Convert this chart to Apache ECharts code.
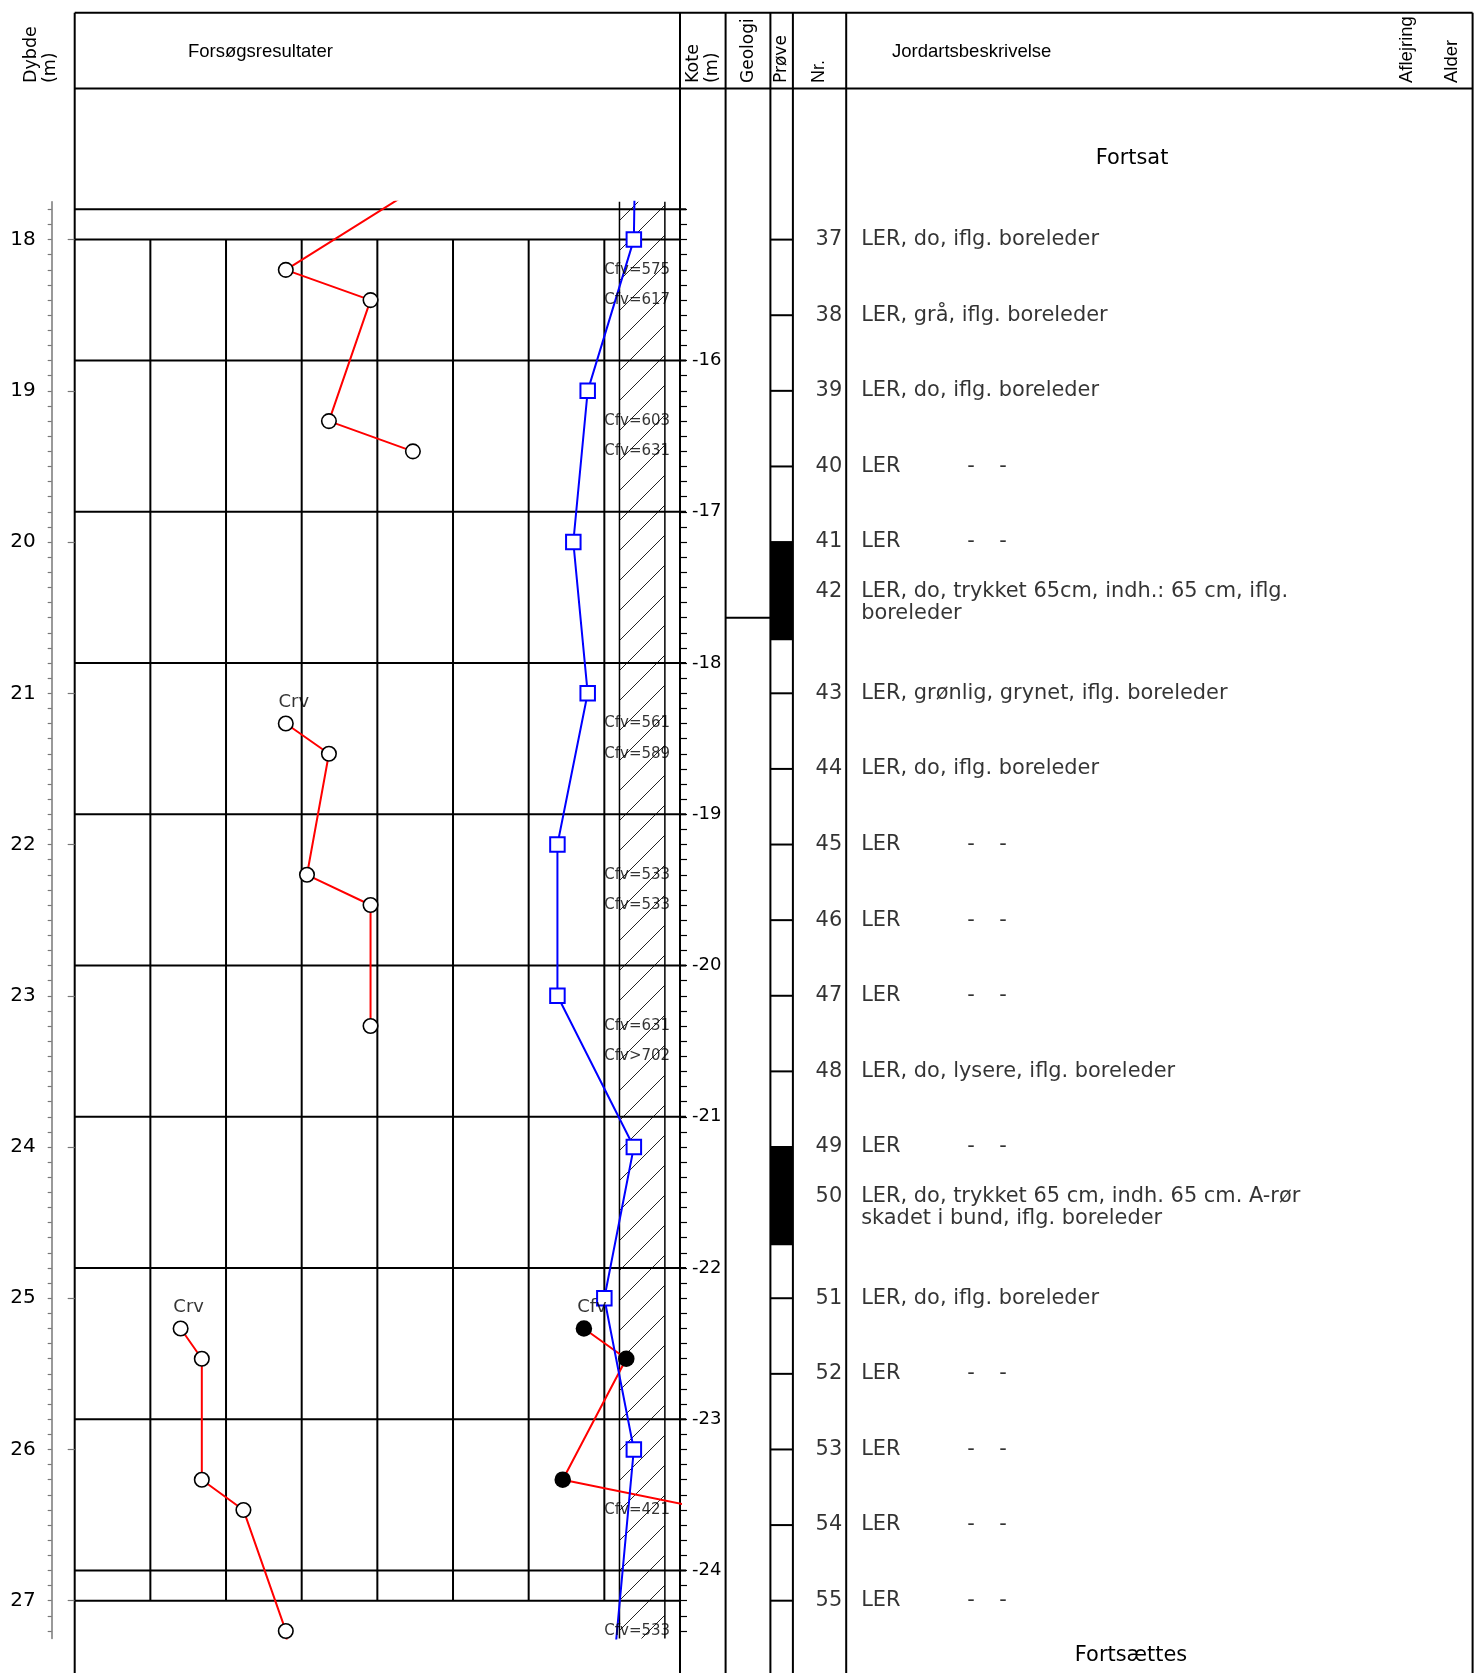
<!DOCTYPE html>
<html>
<head>
<meta charset="utf-8">
<title>Boreprofil</title>
<script src="https://cdn.jsdelivr.net/npm/echarts@6/dist/echarts.min.js"></script>
<style>
  html, body { margin: 0; padding: 0; background: #fff; }
  #chart { width: 1479px; height: 1673px; }
</style>
</head>
<body>
<div id="chart"></div>
<script>
// depth window shown on this sheet (m) and ground level (kote)
const depthMin = 17.75
const depthMax = 27.25
const groundKote = 2.8

// axis ticks / labels
const depthLabels = [18, 19, 20, 21, 22, 23, 24, 25, 26, 27]
const koteLines = [-15, -16, -17, -18, -19, -20, -21, -22, -23, -24]
const koteLabels = [-16, -17, -18, -19, -20, -21, -22, -23, -24]
const gridDepths = [18, 27]
const gridColumns = [1, 2, 3, 4, 5, 6, 7]

// Crv (vingeforsøg, intakt) - three runs
const crvTop = [[5.34, 17.4], [2.79, 18.2], [3.91, 18.4], [3.36, 19.2], [4.47, 19.4]]
const crvMid = [[2.79, 21.2], [3.36, 21.4], [3.07, 22.2], [3.91, 22.4], [3.91, 23.2]]
const crvLow = [[1.40, 25.2], [1.68, 25.4], [1.68, 26.2], [2.23, 26.4], [2.79, 27.2], [2.83, 27.4]]
// Cfv points (filled)
const cfvPoints = [[6.73, 25.2], [7.29, 25.4], [6.45, 26.2], [8.42, 26.4]]
// blue squares
const waterContent = [[7.42, 17.0], [7.39, 18.0], [6.78, 19.0], [6.59, 20.0], [6.78, 21.0],
  [6.38, 22.0], [6.38, 23.0], [7.39, 24.0], [7.0, 25.0], [7.39, 26.0], [7.02, 28.0]]

// Cfv text column
const cfvDepth = [18.2, 18.4, 19.2, 19.4, 21.2, 21.4, 22.2, 22.4, 23.2, 23.4, 26.4, 27.2]
const cfvText = ['Cfv=575', 'Cfv=617', 'Cfv=603', 'Cfv=631', 'Cfv=561', 'Cfv=589',
  'Cfv=533', 'Cfv=533', 'Cfv=631', 'Cfv>702', 'Cfv=421', 'Cfv=533']
const runLabels = [[2.79, 21.2, 'Crv'], [1.40, 25.2, 'Crv'], [6.73, 25.2, 'Cfv']]

// geologi / prøver
const geoBoundaries = [20.5]
const sampleTicks = [18, 18.5, 19, 19.5, 20, 21, 21.5, 22, 22.5, 23, 23.5, 24, 25, 25.5, 26, 26.5, 27]
const pressedSamples = [[20.0, 20.65], [24.0, 24.65]]

const sampleNr = [37, 38, 39, 40, 41, 42, 43, 44, 45, 46, 47, 48, 49, 50, 51, 52, 53, 54, 55]
const sampleDepth = [18, 18.5, 19, 19.5, 20, 20.33, 21, 21.5, 22, 22.5, 23, 23.5, 24, 24.33, 25, 25.5, 26, 26.5, 27]
const sampleText = [
  'LER, do, iflg. boreleder',
  'LER, grå, iflg. boreleder',
  'LER, do, iflg. boreleder',
  'LER\t-\t-',
  'LER\t-\t-',
  'LER, do, trykket 65cm, indh.: 65 cm, iflg.\nboreleder',
  'LER, grønlig, grynet, iflg. boreleder',
  'LER, do, iflg. boreleder',
  'LER\t-\t-',
  'LER\t-\t-',
  'LER\t-\t-',
  'LER, do, lysere, iflg. boreleder',
  'LER\t-\t-',
  'LER, do, trykket 65 cm, indh. 65 cm. A-rør\nskadet i bund, iflg. boreleder',
  'LER, do, iflg. boreleder',
  'LER\t-\t-',
  'LER\t-\t-',
  'LER\t-\t-',
  'LER\t-\t-'
]

const FONT_V = 'DejaVu Sans'
const FONT_A = 'Liberation Sans'
const TXT = 20.9

const depthMinorTicks = []
for (let i = 178; i <= 272; i++) depthMinorTicks.push(i / 10)

// hatch pattern for the vane column
const hatch = document.createElement('canvas')
hatch.width = 30
hatch.height = 30
const hc = hatch.getContext('2d')
hc.strokeStyle = '#222'
hc.lineWidth = 1
hc.beginPath()
hc.moveTo(0, 30); hc.lineTo(30, 0)
hc.moveTo(-15, 15); hc.lineTo(15, -15)
hc.moveTo(15, 45); hc.lineTo(45, 15)
hc.stroke()

const chart = echarts.init(document.getElementById('chart'))

const plotTop = 201.8
const plotH = 1436.7
function grid(left, width) {
  return { left: left, top: plotTop, width: width, height: plotH }
}
function hiddenDepthAxis(g) {
  return { gridIndex: g, type: 'value', inverse: true, min: depthMin, max: depthMax, show: false }
}
function hiddenX(g, max) {
  return { gridIndex: g, type: 'value', min: 0, max: max, show: false }
}
function seg(a, b, w, color) {
  return { type: 'line', shape: { x1: a[0], y1: a[1], x2: b[0], y2: b[1] },
    style: { stroke: color || '#000', lineWidth: w } }
}

// frame + header
const g = []
function vline(x, w) { g.push({ type: 'line', shape: { x1: x, y1: 12.8, x2: x, y2: 1673 }, style: { stroke: '#000', lineWidth: w } }) }
g.push({ type: 'line', shape: { x1: 74.7, y1: 12.8, x2: 1472.6, y2: 12.8 }, style: { stroke: '#000', lineWidth: 2 } })
g.push({ type: 'line', shape: { x1: 74.7, y1: 88.5, x2: 1472.6, y2: 88.5 }, style: { stroke: '#000', lineWidth: 2 } })
;[74.7, 680, 725.6, 770.4, 792.9, 846.2, 1472.6].forEach(x => vline(x, 2))
function vtext(text, x, font, size) {
  g.push({ type: 'text', x: x, y: 83, rotation: Math.PI / 2,
    style: { text: text, fontFamily: font, fontSize: size, fill: '#000', align: 'left', verticalAlign: 'middle' } })
}
function htext(text, x, y, font, size, align) {
  g.push({ type: 'text', x: x, y: y,
    style: { text: text, fontFamily: font, fontSize: size, fill: '#000', align: align || 'left', verticalAlign: 'middle' } })
}
vtext('Dybde', 31, FONT_V, 17.5)
vtext('(m)', 50, FONT_V, 17.5)
htext('Forsøgsresultater', 188, 52, FONT_A, 18.5)
vtext('Kote', 693.6, FONT_V, 17.5)
vtext('(m)', 712.8, FONT_V, 17.5)
vtext('Geologi', 749, FONT_V, 17)
vtext('Prøve', 782, FONT_V, 17)
vtext('Nr.', 819.5, FONT_A, 18)
htext('Jordartsbeskrivelse', 892, 52, FONT_A, 18.5)
vtext('Aflejring', 1407, FONT_A, 18.5)
vtext('Alder', 1452, FONT_A, 18.5)
htext('Fortsat', 1132, 159, FONT_V, TXT, 'center')
htext('Fortsættes', 1131, 1656, FONT_V, TXT, 'center')

function lineRun(data, name) {
  return {
    name: name, type: 'line', xAxisIndex: 0, yAxisIndex: 0, data: data, z: 4,
    symbol: 'circle', symbolSize: 14.5, showAllSymbol: true,
    itemStyle: { color: '#fff', borderColor: '#000', borderWidth: 1.6 },
    lineStyle: { color: '#ff0000', width: 2 }
  }
}

chart.setOption({
  animation: false,
  grid: [grid(74.7, 605.3), grid(725.6, 44.8), grid(770.4, 22.5), grid(792.9, 53.3), grid(846.2, 626.4)],
  xAxis: [hiddenX(0, 8), hiddenX(1, 1), hiddenX(2, 1), hiddenX(3, 1), hiddenX(4, 1)],
  yAxis: [
    {
      gridIndex: 0, type: 'value', inverse: true, min: depthMin, max: depthMax, position: 'left', offset: 23,
      axisLine: { show: true, onZero: false, lineStyle: { color: '#777', width: 1.5 } },
      axisTick: { show: true, length: 4, customValues: depthMinorTicks, lineStyle: { color: '#777', width: 1.2 } },
      axisLabel: { show: false }, splitLine: { show: false }
    },
    {
      gridIndex: 0, type: 'value', inverse: true, min: depthMin, max: depthMax, position: 'left', offset: 23,
      axisLine: { show: false },
      axisTick: { show: true, length: 7, customValues: depthLabels, lineStyle: { color: '#777', width: 1.2 } },
      axisLabel: { show: true, customValues: depthLabels, fontSize: 20, fontFamily: FONT_V, color: '#000', margin: 16 },
      splitLine: { show: false }
    },
    {
      gridIndex: 0, type: 'value', inverse: true, min: depthMin, max: depthMax, position: 'right', offset: 0,
      axisLine: { show: false },
      axisTick: { show: true, length: 7, customValues: depthMinorTicks, lineStyle: { color: '#000', width: 1.2 } },
      axisLabel: {
        show: true, customValues: koteLabels.map(k => groundKote - k),
        formatter: v => String(Math.round(groundKote - v)),
        fontSize: 18, fontFamily: FONT_V, color: '#000', margin: 12
      },
      splitLine: { show: false }
    },
    hiddenDepthAxis(1), hiddenDepthAxis(2), hiddenDepthAxis(3), hiddenDepthAxis(4)
  ],
  graphic: g,
  series: [
    {
      // hatched vane column
      type: 'custom', xAxisIndex: 0, yAxisIndex: 0, z: 1, silent: true,
      data: [[7.2, depthMin, 7.8, depthMax]],
      renderItem: (params, api) => {
        const a = api.coord([api.value(0), api.value(1)])
        const b = api.coord([api.value(2), api.value(3)])
        return { type: 'group', children: [
          { type: 'rect', shape: { x: a[0], y: a[1], width: b[0] - a[0], height: b[1] - a[1] },
            style: { fill: { image: hatch, repeat: 'repeat' } } },
          seg([a[0], a[1]], [a[0], b[1]], 1.5),
          seg([b[0], a[1]], [b[0], b[1]], 1.5)
        ] }
      }
    },
    {
      // kote lines
      type: 'custom', xAxisIndex: 0, yAxisIndex: 0, z: 2, silent: true,
      data: koteLines.map(k => [8, groundKote - k]),
      renderItem: (params, api) => {
        const a = api.coord([0, api.value(1)])
        const b = api.coord([api.value(0), api.value(1)])
        return seg(a, [b[0] + 6, b[1]], 2)
      }
    },
    {
      type: 'custom', xAxisIndex: 0, yAxisIndex: 0, z: 2, silent: true,
      data: gridDepths.map(d => [8, d]),
      renderItem: (params, api) => seg(api.coord([0, api.value(1)]), api.coord([api.value(0), api.value(1)]), 2)
    },
    {
      type: 'custom', xAxisIndex: 0, yAxisIndex: 0, z: 2, silent: true,
      data: gridColumns.map(x => [x, gridDepths[0], gridDepths[1]]),
      renderItem: (params, api) => seg(api.coord([api.value(0), api.value(1)]), api.coord([api.value(0), api.value(2)]), 2)
    },
    lineRun(crvTop, 'Crv1'),
    lineRun(crvMid, 'Crv2'),
    lineRun(crvLow, 'Crv3'),
    {
      name: 'Cfv', type: 'line', xAxisIndex: 0, yAxisIndex: 0, data: cfvPoints, z: 5,
      symbol: 'circle', symbolSize: 16.5, showAllSymbol: true,
      itemStyle: { color: '#000', borderColor: '#000', borderWidth: 0 },
      lineStyle: { color: '#ff0000', width: 2 }
    },
    {
      name: 'w', type: 'line', xAxisIndex: 0, yAxisIndex: 0, data: waterContent, z: 6,
      symbol: 'rect', symbolSize: 14.5, showAllSymbol: true,
      itemStyle: { color: '#fff', borderColor: '#0000ff', borderWidth: 2 },
      lineStyle: { color: '#0000ff', width: 2 }
    },
    {
      type: 'scatter', xAxisIndex: 0, yAxisIndex: 0, z: 7, silent: true, symbolSize: 0,
      data: cfvDepth.map((d, i) => [7.0, d, cfvText[i]]),
      label: { show: true, position: 'right', distance: 0, formatter: p => p.value[2],
        fontFamily: FONT_V, fontSize: 15, color: '#000', textBorderWidth: 0 }
    },
    {
      type: 'scatter', xAxisIndex: 0, yAxisIndex: 0, z: 7, silent: true, symbolSize: 0,
      data: runLabels,
      label: { show: true, position: 'inside', offset: [8, -21], formatter: p => p.value[2],
        fontFamily: FONT_V, fontSize: 18, color: '#000', textBorderWidth: 0 }
    },
    {
      // geologi boundary
      type: 'custom', xAxisIndex: 1, yAxisIndex: 3, silent: true,
      data: geoBoundaries.map(d => [1, d]),
      renderItem: (params, api) => seg(api.coord([0, api.value(1)]), api.coord([api.value(0), api.value(1)]), 2)
    },
    {
      // prøve ticks
      type: 'custom', xAxisIndex: 2, yAxisIndex: 4, silent: true,
      data: sampleTicks.map(d => [1, d]),
      renderItem: (params, api) => seg(api.coord([0, api.value(1)]), api.coord([api.value(0), api.value(1)]), 2)
    },
    {
      // trykkede prøver
      type: 'custom', xAxisIndex: 2, yAxisIndex: 4, silent: true,
      data: pressedSamples.map(s => [1, s[0], s[1]]),
      renderItem: (params, api) => {
        const a = api.coord([0, api.value(1)])
        const b = api.coord([api.value(0), api.value(2)])
        return { type: 'rect', shape: { x: a[0], y: a[1], width: b[0] - a[0], height: b[1] - a[1] }, style: { fill: '#000' } }
      }
    },
    {
      type: 'scatter', xAxisIndex: 3, yAxisIndex: 5, silent: true, symbolSize: 0,
      data: sampleDepth.map((d, i) => [1, d, sampleNr[i]]),
      label: { show: true, position: 'left', distance: 4, formatter: p => String(p.value[2]),
        fontFamily: FONT_V, fontSize: TXT, color: '#000' }
    },
    {
      type: 'scatter', xAxisIndex: 4, yAxisIndex: 6, silent: true, symbolSize: 0,
      data: sampleDepth.map((d, i) => [0, d, i]),
      label: {
        show: true, position: 'right', distance: 15, verticalAlign: 'top', offset: [0, -11],
        fontFamily: FONT_V, fontSize: TXT, lineHeight: 22, color: '#000',
        formatter: p => {
          const t = sampleText[p.value[2]]
          if (t.indexOf('\t') >= 0) {
            const parts = t.split('\t')
            return '{w|' + parts[0] + '}{d|' + parts[1] + '}{d|' + parts[2] + '}'
          }
          return t
        },
        rich: {
          w: { width: 106, fontFamily: FONT_V, fontSize: TXT, lineHeight: 22, color: '#000' },
          d: { width: 32, fontFamily: FONT_V, fontSize: TXT, lineHeight: 22, color: '#000' }
        }
      }
    }
  ]
})
</script>
</body>
</html>
